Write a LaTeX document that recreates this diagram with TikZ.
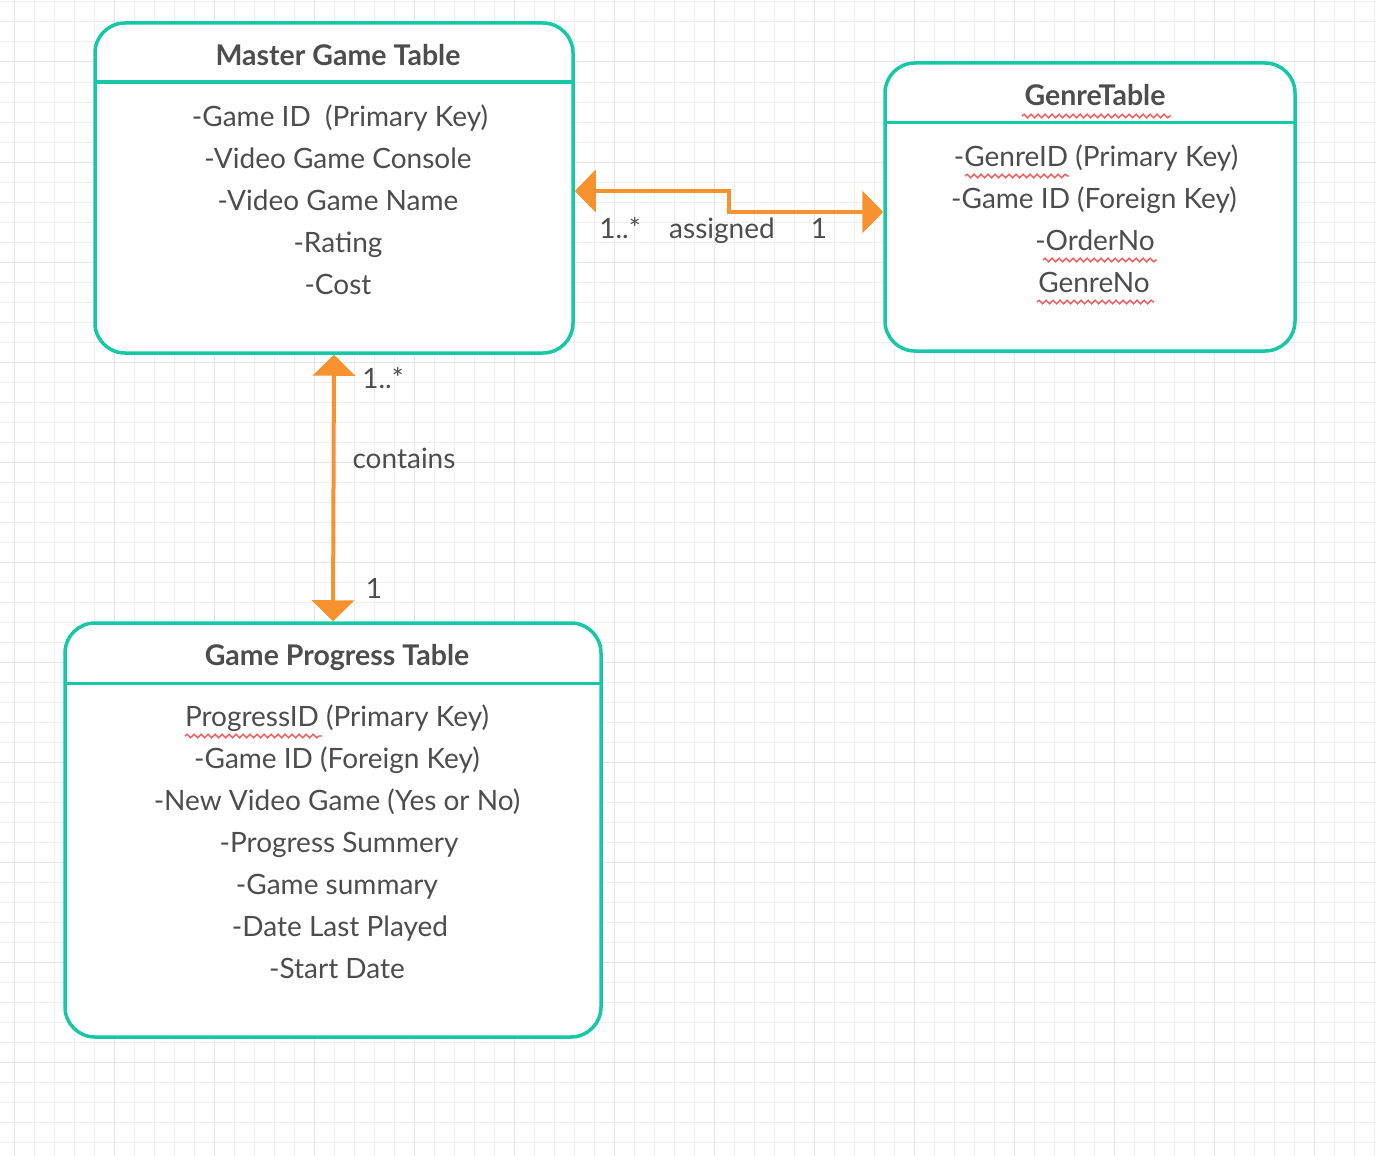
\documentclass[tikz,border=0pt]{standalone}
\usepackage{fontspec}
\setmainfont{Lato}
\usetikzlibrary{arrows.meta,decorations.pathmorphing,calc}
\definecolor{teal1}{RGB}{22,200,165}
\definecolor{orng}{RGB}{247,146,47}
\definecolor{txt}{RGB}{77,77,77}
\definecolor{gridc}{RGB}{238,238,238}
\definecolor{gridm}{RGB}{229,229,229}
\definecolor{squig}{RGB}{245,90,90}
\tikzset{
  table/.style={draw=teal1, line width=3.5pt, rounded corners=30pt, fill=white, inner sep=0pt},
  hdr/.style={draw=teal1, line width=3pt},
  title/.style={text=txt, font=\fontsize{28.5}{34}\selectfont\bfseries, inner sep=0pt, anchor=base},
  item/.style={text=txt, font=\fontsize{28}{34}\selectfont, inner sep=0pt, anchor=base},
  lbl/.style={text=txt, font=\fontsize{28}{34}\selectfont, inner sep=0pt, anchor=base},
  rel/.style={draw=orng, line width=4pt, {Triangle[length=21pt,width=42pt]}-{Triangle[length=21pt,width=42pt]}},
  wavy/.style={draw=squig, line width=1.4pt, decorate, decoration={snake, segment length=7pt, amplitude=1.8pt}}
}
\begin{document}
\begin{tikzpicture}[x=1pt,y=-1pt]
\useasboundingbox (0,0) rectangle (1376,1156);
% grid
\foreach \x in {14,34,...,1374} \draw[gridc, line width=1pt] (\x,0) -- (\x,1156);
\foreach \y in {2,22,...,1154} \draw[gridc, line width=1pt] (0,\y) -- (1376,\y);
\foreach \x in {14,114,...,1374} \draw[gridm, line width=1pt] (\x,0) -- (\x,1156);
\foreach \y in {62,162,...,1154} \draw[gridm, line width=1pt] (0,\y) -- (1376,\y);

% tables
\node[table, minimum width=478pt, minimum height=330pt] (master) at (334,188) {};
\draw[hdr] (95,82) -- (573,82);
\node[table, minimum width=410pt, minimum height=288pt] (genre) at (1090,207) {};
\draw[hdr] (885,122) -- (1295,122);
\node[table, minimum width=536pt, minimum height=414pt] (progress) at (333,830) {};
\draw[hdr] (65,683) -- (601,683);

% master text
\node[title] (mt) at (338,65.5) {Master Game Table};
\node[item] (m1) at (340,126) {-Game ID\ \ (Primary Key)};
\node[item] (m2) at (338,168) {-Video Game Console};
\node[item] (m3) at (338,210) {-Video Game Name};
\node[item] (m4) at (338,252) {-Rating};
\node[item] (m5) at (338,294) {-Cost};

% genre text
\node[title] (gt) at (1095,105.5) {GenreTable};
\node[item] (g1) at (1096,166) {-GenreID (Primary Key)};
\node[item] (g2) at (1094,208) {-Game ID (Foreign Key)};
\node[item] (g3) at (1095,250) {-OrderNo};
\node[item] (g4) at (1094,292) {GenreNo};

% progress text
\node[title] (pt) at (337,665.5) {Game Progress Table};
\node[item] (p1) at (337,726) {ProgressID (Primary Key)};
\node[item] (p2) at (337,768) {-Game ID (Foreign Key)};
\node[item] (p3) at (337,810) {-New Video Game (Yes or No)};
\node[item] (p4) at (339,852) {-Progress Summery};
\node[item] (p5) at (337,894) {-Game summary};
\node[item] (p6) at (340,936) {-Date Last Played};
\node[item] (p7) at (337,978) {-Start Date};

% spell-check squiggles
\draw[wavy] (1022,116) -- (1171,116);
\draw[wavy] (965,176) -- (1069,176);
\draw[wavy] (1043,260) -- (1157,260);
\draw[wavy] (1037,302) -- (1154,302);
\draw[wavy] (185,736) -- (322,736);

% relations
\coordinate (bend) at (729,200);
\draw[rel] ([yshift=-3pt]master.east) -| (bend) |- ([yshift=-5pt]genre.west);
\draw[rel] (master.south) -- (progress.north);

% labels
\node[lbl] (a1) at (620,238) {1..*};
\node[lbl] (a2) at (722,238) {assigned};
\node[lbl] (a3) at (819,238) {1};
\node[lbl] (c1) at (383,388) {1..*};
\node[lbl] (c2) at (404,468) {contains};
\node[lbl] (c3) at (374,598) {1};
\end{tikzpicture}
\end{document}
